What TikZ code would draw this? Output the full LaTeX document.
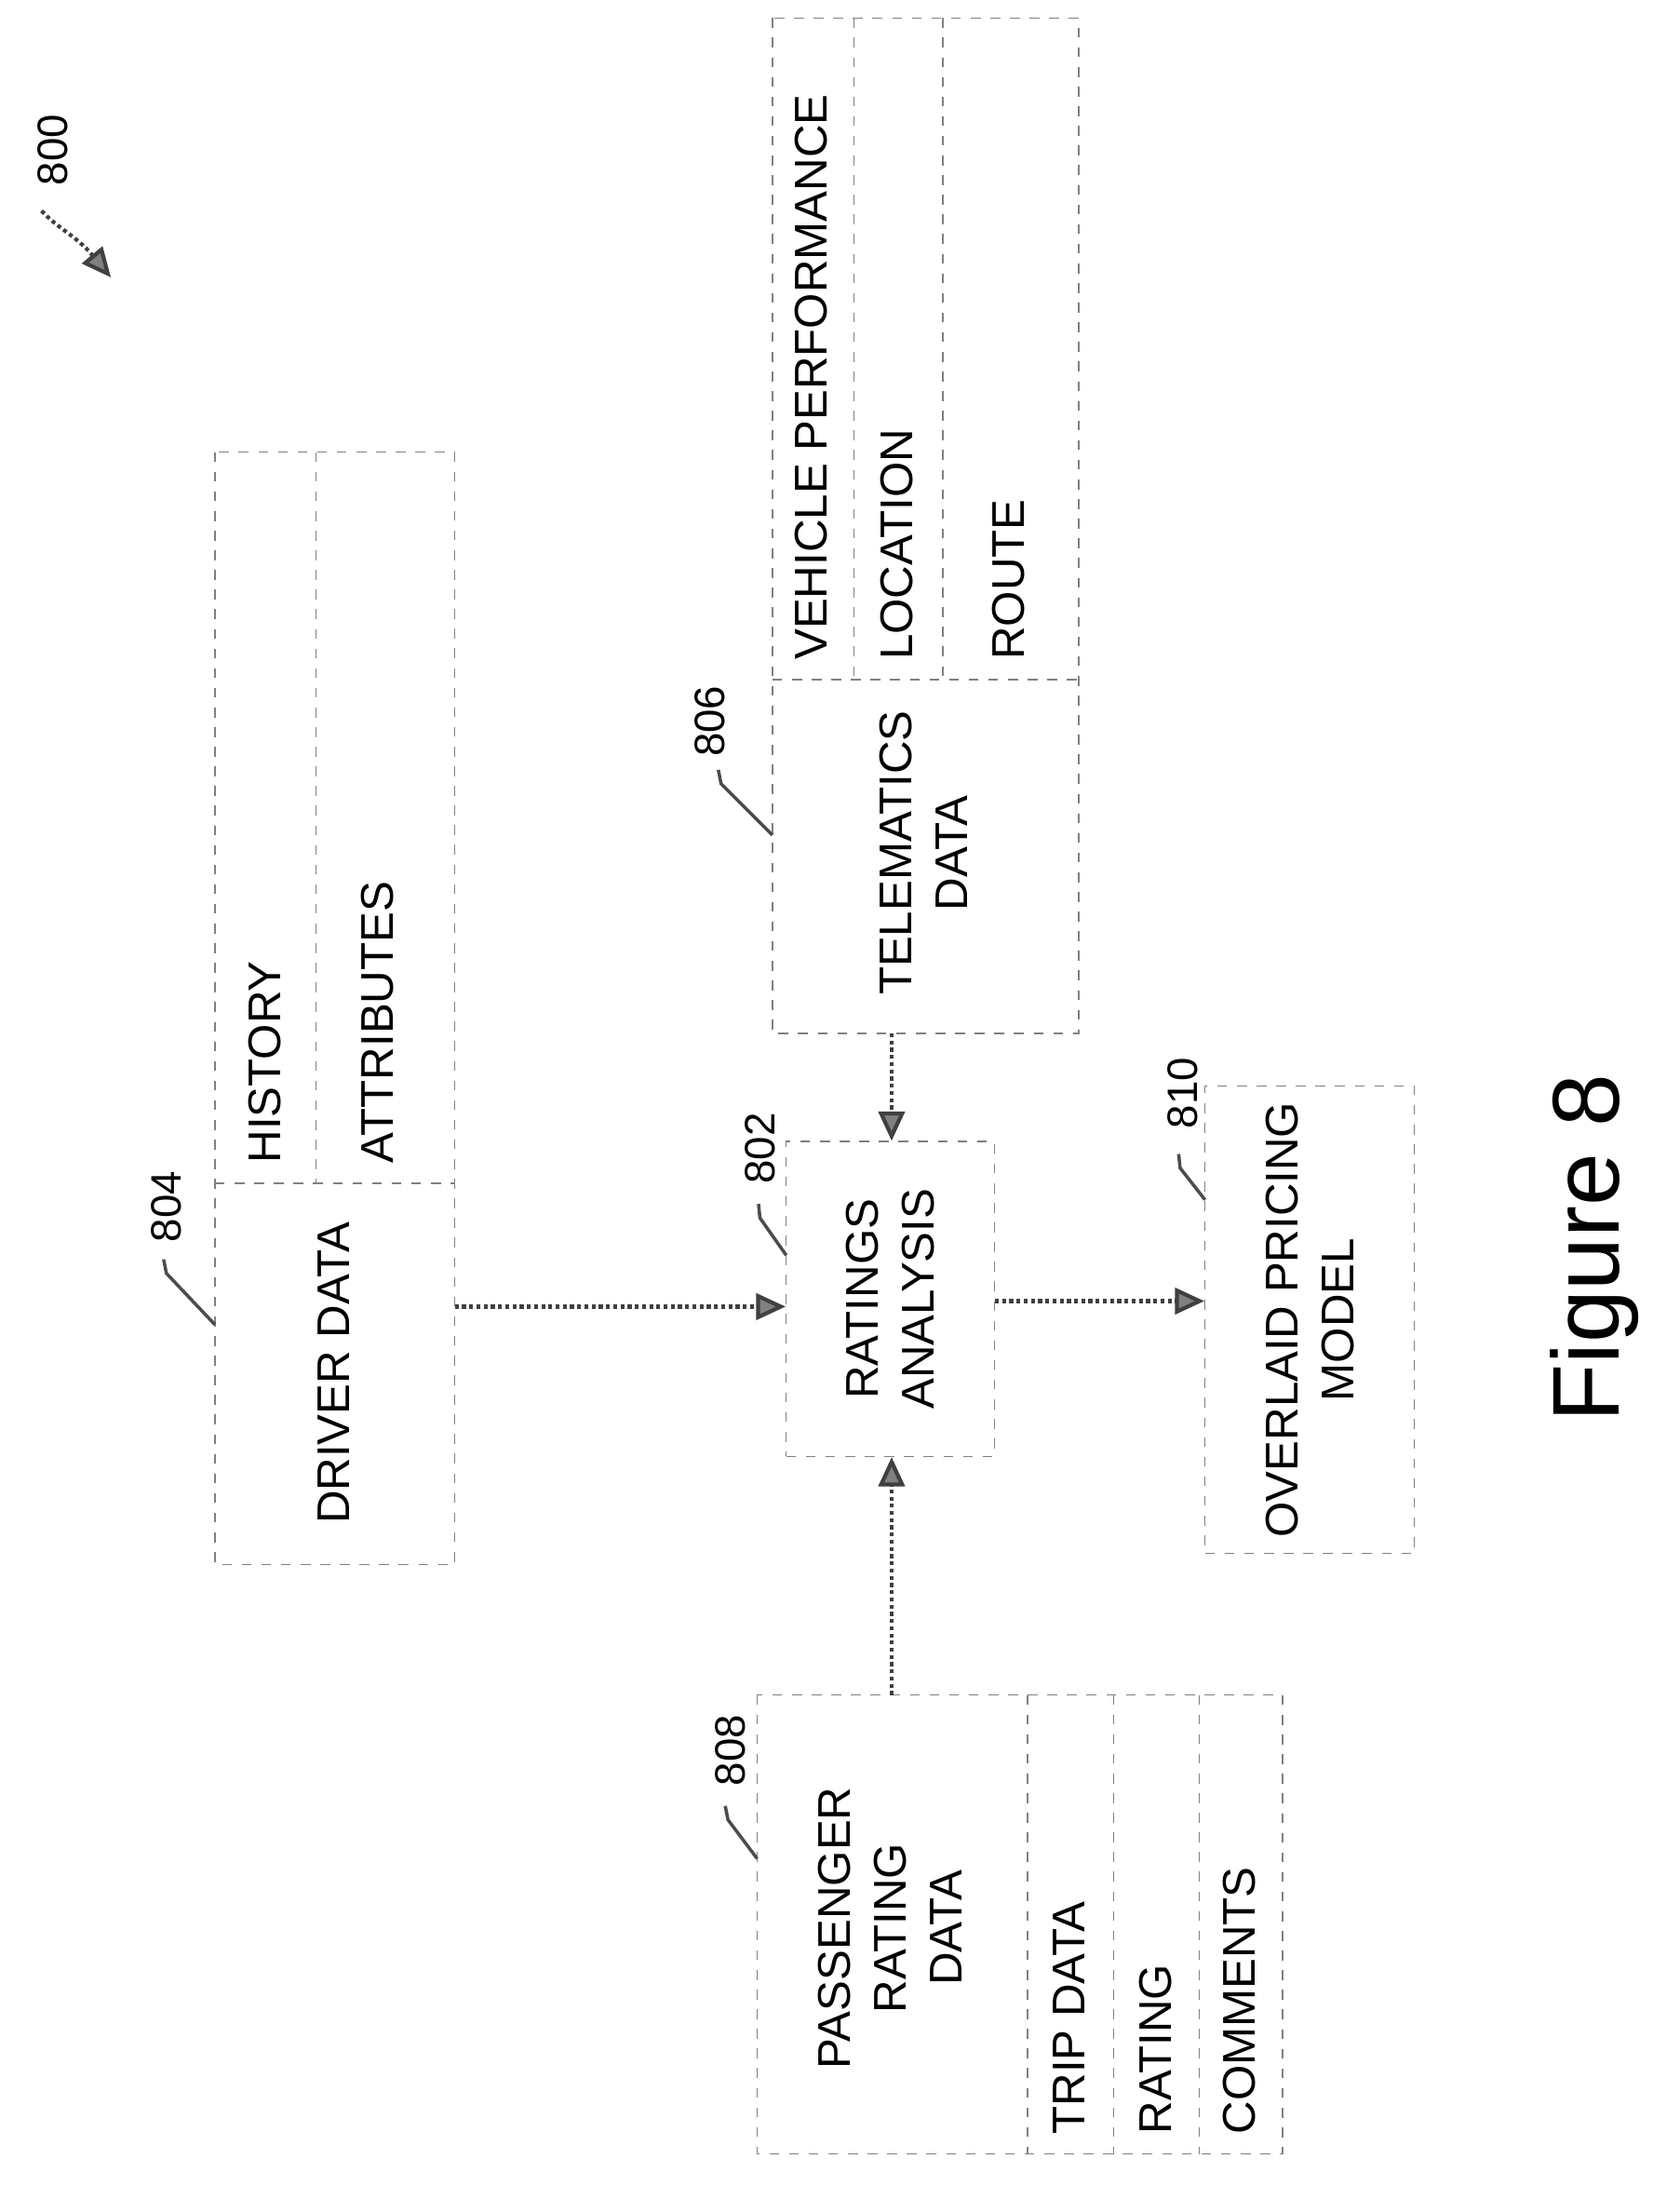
\documentclass[tikz,border=0pt]{standalone}
\usepackage{fontspec}
\setmainfont{Liberation Sans}
\usetikzlibrary{arrows.meta}
\tikzset{
  box/.style={draw=gray, dashed, thin, inner sep=0pt},
  txt/.style={rotate=90, font=\fontsize{14}{17}\selectfont, align=center},
  lbl/.style={rotate=90, font=\fontsize{13}{15}\selectfont},
  flow/.style={draw=black!75, line width=1.2pt, densely dotted, -{Triangle[length=9pt,width=8pt,fill=gray]}},
  lead/.style={draw=black!70, line width=1pt}
}
\begin{document}
\begin{tikzpicture}[x=0.0149cm, y=-0.0149cm]
  \useasboundingbox (0,0) rectangle (1211,1576);
  % boxes
  \draw[box] (155,326) rectangle (328,1128); \draw[box] (155,853) -- (328,853); \draw[box] (228,326) -- (228,853);
  \draw[box] (557,13) rectangle (778,745); \draw[box] (557,490) -- (778,490);
  \draw[box] (616,13) -- (616,490); \draw[box] (680,13) -- (680,490);
  \draw[box] (546,1222) rectangle (925,1553); \draw[box] (741,1222) -- (741,1553);
  \draw[box] (803,1222) -- (803,1553); \draw[box] (865,1222) -- (865,1553);
  \node[box, minimum width=150*0.0149cm, minimum height=227*0.0149cm] (ratings) at (642,936.5) {};
  \node[box, minimum width=151*0.0149cm, minimum height=337*0.0149cm] (pricing) at (944.5,951.5) {};
  \coordinate (driver) at (328,942); \coordinate (telem) at (643,745); \coordinate (pass) at (643,1222);
  % texts
  \node[txt] (tDriver) at (241,990) {DRIVER DATA};
  \node[txt, anchor=west] (tHistory) at (191,847) {HISTORY};
  \node[txt, anchor=west] (tAttr) at (272,847) {ATTRIBUTES};
  \node[txt] (tTelem) at (666,615) {TELEMATICS\\DATA};
  \node[txt, anchor=west] (tVeh) at (585,484) {VEHICLE PERFORMANCE};
  \node[txt, anchor=west] (tLoc) at (647,484) {LOCATION};
  \node[txt, anchor=west] (tRoute) at (727,484) {ROUTE};
  \node[txt] (tRatings) at (ratings) {RATINGS\\ANALYSIS};
  \node[txt] (tPricing) at (pricing) {OVERLAID PRICING\\MODEL};
  \node[txt] (tPass) at (642,1390) {PASSENGER\\RATING\\DATA};
  \node[txt, anchor=west] (tTrip) at (771,1547) {TRIP DATA};
  \node[txt, anchor=west] (tRating) at (833,1547) {RATING};
  \node[txt, anchor=west] (tComm) at (894,1547) {COMMENTS};
  % connectors
  \draw[flow] (driver) -- (ratings.west |- driver);
  \draw[flow] (ratings.east |- 0,938) -- (pricing.west |- 0,938);
  \draw[flow] (telem) -- (ratings.north -| telem);
  \draw[flow] (pass) -- (ratings.south -| pass);
  % reference numbers
  \node[lbl] (n804) at (120,870) {804};
  \draw[lead] (155,955) -- (120,918) -- (118,908);
  \node[lbl] (n806) at (512,520) {806};
  \draw[lead] (557,602) -- (520,565) -- (518,555);
  \node[lbl] (n802) at (548,828) {802};
  \draw[lead] (567,905) -- (548,878) -- (547,868);
  \node[lbl] (n810) at (853,788) {810};
  \draw[lead] (869,865) -- (851,842) -- (850,832);
  \node[lbl] (n808) at (527,1262) {808};
  \draw[lead] (546,1340) -- (525,1312) -- (523,1302);
  \node[lbl] (n800) at (38,108) {800};
  \draw[flow] (30,152) .. controls (42,165) and (55,170) .. (80,200);
  \node[rotate=90, font=\fontsize{29}{34}\selectfont] (fig) at (1150,900) {Figure 8};
\end{tikzpicture}
\end{document}
